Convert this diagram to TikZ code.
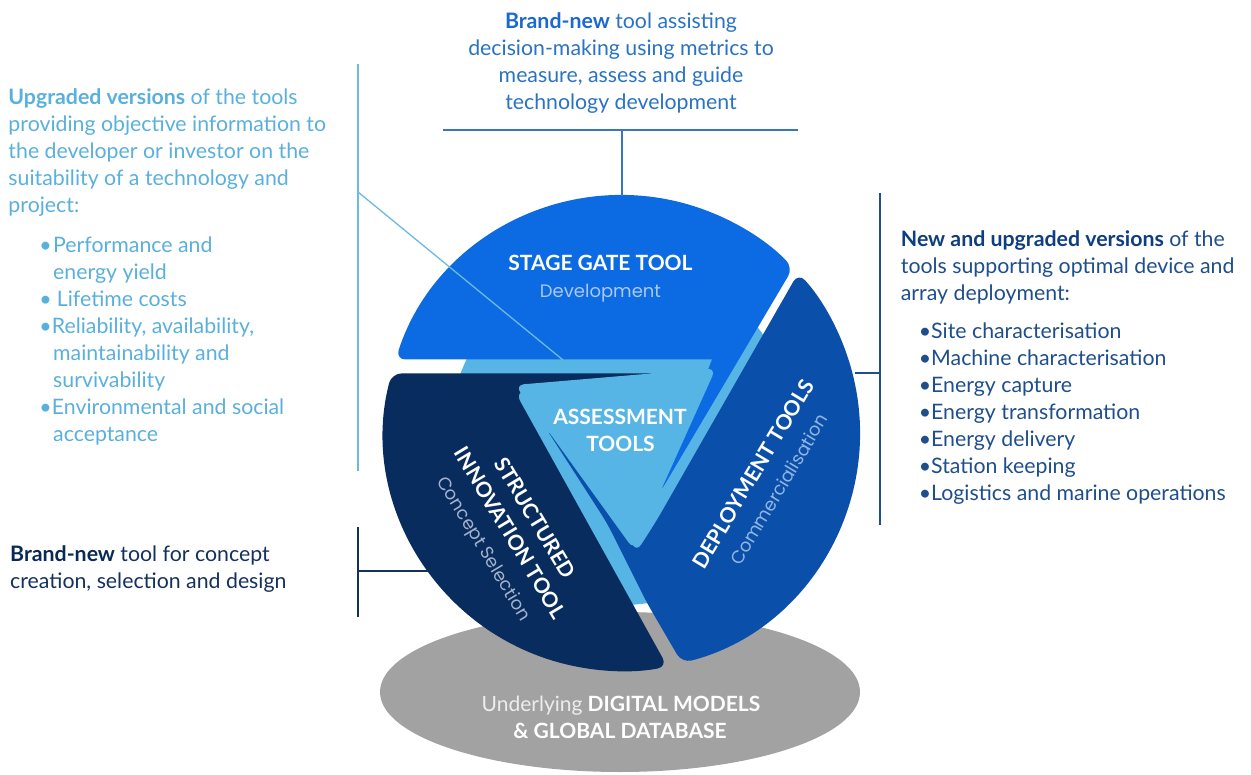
\documentclass[tikz,border=0pt]{standalone}
\usepackage{fontspec}
\setmainfont{Lato}
\newfontfamily\geofont{Poppins}
\usetikzlibrary{calc}
\definecolor{sgblue}{HTML}{0C6BE2}
\definecolor{navyblue}{HTML}{082C5E}
\definecolor{dpblue}{HTML}{0A50AA}
\definecolor{lightblue}{HTML}{56B5E5}
\definecolor{dbgray}{HTML}{A2A2A2}
\definecolor{lefttxt}{HTML}{5AB0DC}
\definecolor{leftline}{HTML}{6CB9E3}
\definecolor{toptxt}{HTML}{2A73C4}
\definecolor{topbold}{HTML}{1A68D2}
\definecolor{topline}{HTML}{3A76BE}
\definecolor{righttxt}{HTML}{1F4E8C}
\definecolor{rightbold}{HTML}{0E3D82}
\definecolor{bltxt}{HTML}{14315E}
\definecolor{blbold}{HTML}{0A2A55}
\definecolor{devtxt}{HTML}{A9C8F2}
\definecolor{comtxt}{HTML}{94B4E2}
\definecolor{contxt}{HTML}{A4B2CC}
\definecolor{undtxt}{HTML}{EDEDED}
\tikzset{
  sidetext/.style={inner sep=0pt, align=left, font=\fontsize{21.3}{27}\selectfont},
  labeltext/.style={inner sep=0pt, text=white, font=\fontsize{21}{29}\selectfont\bfseries},
  subtext/.style={inner sep=0pt, font=\fontsize{18}{28}\selectfont\geofont},
  connleft/.style={draw=leftline, line width=1.3pt},
  conntop/.style={draw=topline, line width=1.3pt},
  connright/.style={draw=righttxt, line width=1.3pt},
  connbl/.style={draw=bltxt, line width=1.3pt}
}
\begin{document}
\begin{tikzpicture}[x=1pt,y=1pt]
\useasboundingbox (0,0) rectangle (1251,-775);
% key points
\coordinate (C) at (622,-433);
\coordinate (TL) at (515,-385);
\coordinate (TR) at (716,-368);
\coordinate (TB) at (634,-550);
\coordinate (sgtip) at ($(TR)!0.687!(TB)$);
\coordinate (nvtip) at ($(TL)!0.682!(TR)$);
\coordinate (dptip) at (549,-433);
% database ellipse
\fill[dbgray] (620,-692) ellipse [x radius=240, y radius=80];
% light blue core
\fill[lightblue] (C) circle [radius=172];
% stage gate sector
\fill[sgblue] (712,-359.5) [rounded corners=10pt] -- (395.6,-359.5)
  arc[start angle=162.0, end angle=44, radius=238] -- (sgtip) [sharp corners] -- cycle;
% structured innovation sector
\fill[navyblue] (nvtip) [rounded corners=10pt] -- (391.6,-373.4)
  arc[start angle=165.5, end angle=281, radius=238] -- (515,-392) [sharp corners] -- cycle;
% deployment sector
\fill[dpblue] (dptip) [rounded corners=10pt] -- (607,-523) -- (647,-603) -- (682,-663)
  arc[start angle=284.6, end angle=402.2, radius=238] -- (657,-520) -- (636,-553)
  [sharp corners] -- (600,-470) -- (560,-438) -- cycle;
% assessment triangle
\fill[lightblue, rounded corners=9pt] (TL) -- (TR) -- (TB) -- cycle;

% labels inside
\node[labeltext, anchor=base] (sgt) at (600.5,-270.7) {STAGE GATE TOOL};
\node[subtext, text=devtxt, anchor=base] (sgs) at (600.5,-298) {Development};
\node[labeltext, anchor=base] (ast1) at (620,-425) {ASSESSMENT};
\node[labeltext, anchor=base] (ast2) at (620.5,-451.7) {TOOLS};
\node[labeltext, align=center, rotate=-59] (sit) at (508.5,-534)
  {STRUCTURED\\INNOVATION TOOL\\{\geofont\mdseries\fontsize{18}{28}\selectfont\color{contxt}Concept Selection}};
\node[labeltext, align=center, rotate=59] (dpt) at (765.5,-481.5)
  {DEPLOYMENT TOOLS\\{\geofont\mdseries\fontsize{18}{28}\selectfont\color{comtxt}Commercialisation}};
\node[labeltext, anchor=base] (db1) at (621,-711.7)
  {{\mdseries\color{undtxt}Underlying} DIGITAL MODELS};
\node[labeltext, anchor=base] (db2) at (620,-738) {\&{} GLOBAL DATABASE};

% side texts (base anchor = baseline of last line)
\node[sidetext, text=toptxt, align=center, anchor=base] (brandtop) at (621,-109.5)
  {\textcolor{topbold}{\textbf{Brand-new}} tool assisting\\decision-making using metrics to\\measure, assess and guide\\technology development};
\node[sidetext, text=lefttxt, anchor=base west] (upg) at (8.3,-441.5) {%
\textbf{Upgraded versions} of the tools\\
providing objective information to\\
the developer or investor on the\\
suitability of a technology and\\
project:\\[13pt]
\hspace*{31pt}\makebox[13.7pt][l]{•}Performance and\\
\hspace*{44.7pt}energy yield\\
\hspace*{31pt}\makebox[17.4pt][l]{•}Lifetime costs\\
\hspace*{31pt}\makebox[12.4pt][l]{•}Reliability, availability,\\
\hspace*{44.7pt}maintainability and\\
\hspace*{44.7pt}survivability\\
\hspace*{31pt}\makebox[12.4pt][l]{•}Environmental and social\\
\hspace*{44.7pt}acceptance};
\node[sidetext, text=righttxt, anchor=base west] (newup) at (900.7,-500.5) {%
\textcolor{rightbold}{\textbf{New and upgraded versions}} of the\\
tools supporting optimal device and\\
array deployment:\\[11pt]
\hspace*{18pt}\makebox[12.3pt][l]{•}Site characterisation\\
\hspace*{18pt}\makebox[12.3pt][l]{•}Machine characterisation\\
\hspace*{18pt}\makebox[12.3pt][l]{•}Energy capture\\
\hspace*{18pt}\makebox[12.3pt][l]{•}Energy transformation\\
\hspace*{18pt}\makebox[12.3pt][l]{•}Energy delivery\\
\hspace*{18pt}\makebox[12.3pt][l]{•}Station keeping\\
\hspace*{18pt}\makebox[12.3pt][l]{•}Logistics and marine operations};
\node[sidetext, text=bltxt, anchor=base west] (brandbl) at (10,-588)
  {\textcolor{blbold}{\textbf{Brand-new}} tool for concept\\creation, selection and design};

% connector points
\coordinate (lvtop) at (358,-64);
\coordinate (lvbot) at (358,-471);
\coordinate (ldA) at (358,-192);
\coordinate (ldB) at (563,-360);
\coordinate (thl) at (443,-130);
\coordinate (thr) at (798,-130);
\coordinate (thm) at (622,-130);
\coordinate (sgtop) at (622,-196);
\coordinate (rvtop) at (880,-193);
\coordinate (rvbot) at (880,-525);
\coordinate (rvm) at (880,-373);
\coordinate (dpedge) at (855,-373);
\coordinate (blvtop) at (358,-527);
\coordinate (blvbot) at (358,-617);
\coordinate (blvm) at (358,-571);
\coordinate (nvedge) at (428,-571);
% connectors
\draw[connleft] (lvtop) -- (lvbot);
\draw[connleft] (ldA) -- (ldB);
\draw[conntop] (thl) -- (thr);
\draw[conntop] (thm) -- (sgtop);
\draw[connright] (rvtop) -- (rvbot);
\draw[connright] (dpedge) -- (rvm);
\draw[connbl] (blvtop) -- (blvbot);
\draw[connbl] (blvm) -- (nvedge);
\end{tikzpicture}
\end{document}
